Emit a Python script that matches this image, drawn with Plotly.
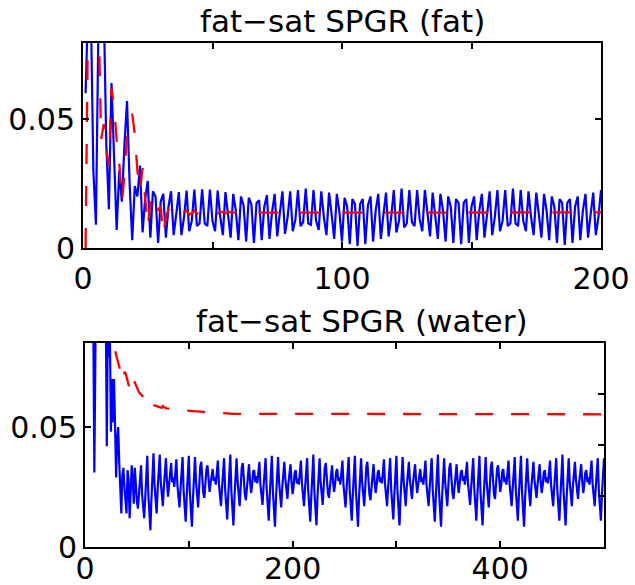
import numpy as np
import plotly.graph_objects as go

# Signals, in units of 1e-3 (MATLAB plot(y): x = 1..N)
fat_spgr = [
    60, 95, 95, 30, 9, 90, 100, 95, 40, 15,
    64, 35, 7, 30, 18, 40, 57, 25, 3, 24,
    20, 32, 6, 19, 26, 4, 22, 20, 2, 18,
    21, 4, 16, 22, 5, 13, 21.7, 5, 12, 22.3,
    6.5, 10.5, 22.7, 8.5, 9.5, 22.8, 9.5, 8.5, 22.7, 10.5,
    6.5, 22.3, 12, 5, 21.7, 13, 4, 21, 14.5, 3,
    20, 16.5, 2.5, 19.5, 17, 2, 17.5, 18.5, 3, 16,
    20.5, 3.5, 14, 21, 4.5, 13.5, 22, 5.5, 12, 22,
    6.5, 11, 22.5, 8.5, 10, 23, 9.5, 9, 22.5, 10.5,
    7, 22, 12, 5, 21.5, 13, 3.5, 21, 14, 2.5,
    19.5, 16, 1.5, 19, 17, 0.8, 17, 19, 1.5, 16.5,
    20, 2.5, 14.5, 21, 3.5, 13, 21.5, 4.5, 12, 22.5,
    6, 10.5, 23, 8, 9.5, 22.5, 10, 8.5, 22.5, 11,
    6.5, 22.5, 12, 4.5, 21.5, 13.5, 3.5, 21, 14.5, 2.5,
    20, 16, 2, 19, 17.5, 1.5, 17.5, 19, 2, 16,
    20, 3, 14.5, 21, 4, 13, 22, 5, 12, 22.5,
    6.5, 10.5, 22.5, 8.5, 9.5, 23, 9.5, 8.5, 22.5, 10.5,
    6.5, 22, 12, 5, 21.5, 13, 4, 21, 14.5, 3,
    20, 16, 2, 19, 17.5, 1.2, 17.5, 19, 2, 16,
    20, 3, 14.5, 21, 4, 13, 21.5, 5, 12, 22.5,
]

fat_ideal = [
    0, 95, 100, 90, 88, 90, 42, 48, 38, 32,
    62, 55, 42, 33, 18, 28, 45, 50, 52, 44,
    30, 22, 31, 20, 8, 18, 16, 12, 15, 16,
    5, 12, 15, 14, 13, 14.5, 13, 12.5, 14, 14.5,
    13, 13.5, 14.5, 13.5, 13, 14, 14, 13.2, 13.5, 14.2,
    13.6, 13.4, 14, 13.9, 13.5, 13.8, 14, 13.7, 13.7, 13.9,
    13.8, 13.8, 13.8, 13.8, 13.8, 13.8, 13.8, 13.8, 13.8, 13.8,
    13.8, 13.8, 13.8, 13.8, 13.8, 13.8, 13.8, 13.8, 13.8, 13.8,
    13.8, 13.8, 13.8, 13.8, 13.8, 13.8, 13.8, 13.8, 13.8, 13.8,
    13.8, 13.8, 13.8, 13.8, 13.8, 13.8, 13.8, 13.8, 13.8, 13.8,
    13.8, 13.8, 13.8, 13.8, 13.8, 13.8, 13.8, 13.8, 13.8, 13.8,
    13.8, 13.8, 13.8, 13.8, 13.8, 13.8, 13.8, 13.8, 13.8, 13.8,
    13.8, 13.8, 13.8, 13.8, 13.8, 13.8, 13.8, 13.8, 13.8, 13.8,
    13.8, 13.8, 13.8, 13.8, 13.8, 13.8, 13.8, 13.8, 13.8, 13.8,
    13.8, 13.8, 13.8, 13.8, 13.8, 13.8, 13.8, 13.8, 13.8, 13.8,
    13.8, 13.8, 13.8, 13.8, 13.8, 13.8, 13.8, 13.8, 13.8, 13.8,
    13.8, 13.8, 13.8, 13.8, 13.8, 13.8, 13.8, 13.8, 13.8, 13.8,
    13.8, 13.8, 13.8, 13.8, 13.8, 13.8, 13.8, 13.8, 13.8, 13.8,
    13.8, 13.8, 13.8, 13.8, 13.8, 13.8, 13.8, 13.8, 13.8, 13.8,
    13.8, 13.8, 13.8, 13.8, 13.8, 13.8, 13.8, 13.8, 13.8, 13.8,
]

water_spgr = [
    130, 140, 120, 110, 125, 115, 100, 95, 31, 100,
    130, 115, 105, 120, 110, 100, 115, 105, 95, 100,
    42, 95, 79, 88, 48, 70, 52, 70, 50, 29,
    45, 50, 35, 20, 14, 30, 33, 25, 18, 14,
    32, 28, 12, 22, 34, 28, 18,
    33, 25, 19, 16, 22, 29, 34, 22, 15, 12, 20, 30,
    38, 22, 11, 7, 20, 33, 39, 26, 17, 14, 24, 34,
    38.5, 27, 20, 17, 25, 33, 37, 27, 21, 26, 32, 35, 27, 29, 25, 32,
    36.5, 26, 19.5, 16.5, 24, 32, 37.5, 23.5, 14.5, 10.5, 21, 32.5,
    38, 23, 13, 8.5, 20, 32, 37.5, 27, 20, 16.5, 25, 33.5,
    35.5, 28, 22.5, 20.5, 26.5, 32.5, 34, 27, 23, 26.5, 31, 32.5, 27.5, 29, 26, 30.5,
    36, 26.5, 20, 17, 24.5, 31.5, 37, 24, 15, 11.5, 21.5, 32,
    38.5, 23.5, 13.5, 9, 20.5, 32.5, 37, 27.5, 20.5, 17, 25, 33,
    35, 28, 22, 19.5, 26, 32, 34.5, 27.5, 22.5, 26, 31.5, 32, 27, 29.5, 26.5, 31,
    35.5, 26, 20, 17.5, 25, 32, 37, 24.5, 15.5, 11, 21.5, 31.5,
    38, 23.5, 13, 8.5, 20, 32, 37.5, 27, 19.5, 16.5, 24.5, 33,
    35.5, 28.5, 22.5, 20, 26.5, 32.5, 34.5, 27, 22, 25.5, 31, 32, 26.5, 28.5, 26, 31,
    36, 26.5, 20.5, 17, 24.5, 32.5, 37, 24, 14.5, 10.5, 21, 32,
    38.5, 23, 13.5, 9, 21, 32.5, 37, 27, 20, 17.5, 25.5, 33,
    35, 27.5, 22.5, 20.5, 26, 32, 34, 27, 23, 26.5, 31.5, 32.5, 27.5, 29, 26, 31,
    36, 26, 19.5, 16.5, 24, 32, 37.5, 24, 15, 11, 21.5, 32,
    38, 23.5, 13.5, 8.5, 20.5, 32, 37, 27, 20, 17, 25, 33.5,
    35.5, 28, 22, 19.5, 26, 32.5, 34.5, 27, 22.5, 26, 31, 32, 27, 29, 26.5, 31,
    36.5, 26.5, 20, 17, 24.5, 32, 37, 24, 15.5, 11.5, 21.5, 32,
    38, 23.5, 13, 9, 20.5, 32.5, 37.5, 27.5, 20.5, 17, 25, 33,
    35.5, 28, 22.5, 20, 26.5, 32.5, 34.5, 27.5, 22.5, 26, 31, 32.5, 27, 29, 26, 31.5,
    36, 26, 20, 17, 24.5, 32, 37, 24, 14.5, 10.5, 21, 31.5,
    38.5, 23.5, 13.5, 8.5, 20.5, 32, 37, 27, 20, 17, 25, 33,
    35, 28, 22.5, 20, 26, 32, 34.5, 27, 22.5, 26.5, 31, 32, 27.5, 29.5, 26, 31,
    35.5, 26.5, 20.5, 17.5, 24.5, 32, 37, 24.5, 15, 11, 21.5, 32,
    38, 23, 13.5, 9, 20, 32, 37.5, 27, 20, 16.5, 25, 33.5,
    35.5, 28, 22, 20, 26.5, 32.5, 34, 27, 23, 26, 31.5, 32.5, 27, 29, 26, 31,
    36, 26.5, 20, 17, 24, 32, 37.5, 24, 15, 11, 21.5, 32.5,
    38, 23.5, 13, 8.5, 20.5, 32, 37, 27.5, 20.5, 17, 25, 33,
    35.5, 28, 22.5, 20.5, 26, 32, 34.5, 27, 22.5, 26, 31, 32, 27, 29, 26.5, 31,
    36, 26, 20, 17, 24.5, 32, 37, 24, 15, 11, 21, 32,
    38.5, 23.5, 13.5, 9, 20.5, 32.5, 37, 27, 20, 17, 25, 33,
    35.5, 28, 22.5, 20, 26.5, 32.5, 34.5, 27.5, 22.5, 26, 31, 32, 27, 29, 26, 31,
    36, 26.5, 20, 17, 24.5, 32, 37, 24, 15, 11, 21.5, 32, 37,
]

water_ideal = [
    140, 135, 131, 127, 123, 119, 116, 113, 110, 108,
    106, 104, 102, 100, 98.5, 97, 96, 95, 94, 93,
    92, 91, 90, 89, 88, 86.5,
    85, 83.5, 82, 80, 78, 76.5, 75, 73.5, 71.5, 70,
    69.5, 73, 72.5, 71, 69, 67.5, 66.5, 66, 65.5, 65,
    69.5, 68.5, 67, 66, 65, 64.5, 64, 63.5, 63, 62.5,
    62, 61.5, 61.2, 62.5, 61.5, 61, 60.5, 60, 59.5, 59.2,
    59, 58.8, 58.6, 58.5, 58.4, 58.3, 58.1, 58, 58.7, 58.3,
    58, 57.9, 57.8, 57.7, 57.6, 57.6, 57.5, 57.4, 57.4, 57.3,
    57.3, 57.2, 57.2, 57.1, 57.1, 57, 57, 56.9, 56.9, 56.9,
    56.8, 56.8, 56.8, 56.7,
    56.7, 56.7, 56.6, 56.6, 56.6, 56.5, 56.5, 56.5, 56.4, 56.4,
    56.4, 56.3, 56.3, 56.3, 56.2, 56.2, 56.2, 56.1, 56.1, 56.1,
    56.0, 56.0, 56.0, 55.9, 55.9, 55.9, 55.9, 55.8, 55.8, 55.8,
    55.8, 55.7, 55.7, 55.7, 55.7, 55.6, 55.6, 55.6, 55.6, 55.6,
    # 140-199
    55.5, 55.5, 55.5, 55.5, 55.5, 55.5, 55.5, 55.5, 55.5, 55.5,
    55.5, 55.5, 55.5, 55.5, 55.5, 55.5, 55.5, 55.5, 55.5, 55.5,
    55.4, 55.4, 55.4, 55.4, 55.4, 55.4, 55.4, 55.4, 55.4, 55.4,
    55.4, 55.4, 55.4, 55.4, 55.4, 55.4, 55.4, 55.4, 55.4, 55.4,
    55.4, 55.4, 55.4, 55.4, 55.4, 55.4, 55.4, 55.4, 55.4, 55.4,
    55.4, 55.4, 55.4, 55.4, 55.4, 55.4, 55.4, 55.4, 55.4, 55.4,
    # 200-299
    55.3, 55.3, 55.3, 55.3, 55.3, 55.3, 55.3, 55.3, 55.3, 55.3,
    55.3, 55.3, 55.3, 55.3, 55.3, 55.3, 55.3, 55.3, 55.3, 55.3,
    55.3, 55.3, 55.3, 55.3, 55.3, 55.3, 55.3, 55.3, 55.3, 55.3,
    55.3, 55.3, 55.3, 55.3, 55.3, 55.3, 55.3, 55.3, 55.3, 55.3,
    55.3, 55.3, 55.3, 55.3, 55.3, 55.3, 55.3, 55.3, 55.3, 55.3,
    55.3, 55.3, 55.3, 55.3, 55.3, 55.3, 55.3, 55.3, 55.3, 55.3,
    55.3, 55.3, 55.3, 55.3, 55.3, 55.3, 55.3, 55.3, 55.3, 55.3,
    55.3, 55.3, 55.3, 55.3, 55.3, 55.3, 55.3, 55.3, 55.3, 55.3,
    55.3, 55.3, 55.3, 55.3, 55.3, 55.3, 55.3, 55.3, 55.3, 55.3,
    55.3, 55.3, 55.3, 55.3, 55.3, 55.3, 55.3, 55.3, 55.3, 55.3,
    # 300-399
    55.3, 55.3, 55.3, 55.3, 55.3, 55.3, 55.3, 55.3, 55.3, 55.3,
    55.3, 55.3, 55.3, 55.3, 55.3, 55.3, 55.3, 55.3, 55.3, 55.3,
    55.3, 55.3, 55.3, 55.3, 55.3, 55.3, 55.3, 55.3, 55.3, 55.3,
    55.3, 55.3, 55.3, 55.3, 55.3, 55.3, 55.3, 55.3, 55.3, 55.3,
    55.3, 55.3, 55.3, 55.3, 55.3, 55.3, 55.3, 55.3, 55.3, 55.3,
    55.3, 55.3, 55.3, 55.3, 55.3, 55.3, 55.3, 55.3, 55.3, 55.3,
    55.3, 55.3, 55.3, 55.3, 55.3, 55.3, 55.3, 55.3, 55.3, 55.3,
    55.3, 55.3, 55.3, 55.3, 55.3, 55.3, 55.3, 55.3, 55.3, 55.3,
    55.3, 55.3, 55.3, 55.3, 55.3, 55.3, 55.3, 55.3, 55.3, 55.3,
    55.3, 55.3, 55.3, 55.3, 55.3, 55.3, 55.3, 55.3, 55.3, 55.3,
    # 400-499
    55.3, 55.3, 55.3, 55.3, 55.3, 55.3, 55.3, 55.3, 55.3, 55.3,
    55.3, 55.3, 55.3, 55.3, 55.3, 55.3, 55.3, 55.3, 55.3, 55.3,
    55.3, 55.3, 55.3, 55.3, 55.3, 55.3, 55.3, 55.3, 55.3, 55.3,
    55.3, 55.3, 55.3, 55.3, 55.3, 55.3, 55.3, 55.3, 55.3, 55.3,
    55.3, 55.3, 55.3, 55.3, 55.3, 55.3, 55.3, 55.3, 55.3, 55.3,
    55.3, 55.3, 55.3, 55.3, 55.3, 55.3, 55.3, 55.3, 55.3, 55.3,
    55.3, 55.3, 55.3, 55.3, 55.3, 55.3, 55.3, 55.3, 55.3, 55.3,
    55.3, 55.3, 55.3, 55.3, 55.3, 55.3, 55.3, 55.3, 55.3, 55.3,
    55.3, 55.3, 55.3, 55.3, 55.3, 55.3, 55.3, 55.3, 55.3, 55.3,
    55.3, 55.3, 55.3, 55.3, 55.3, 55.3, 55.3, 55.3, 55.3, 55.3,
]

titles = ['fat\u2212sat SPGR (fat)', 'fat\u2212sat SPGR (water)']

FONT = 'DejaVu Sans'
BLUE = '#0000ff'
RED = '#ff0000'


def idx(sig):
    # MATLAB plot(y) puts sample k at x = k
    return np.arange(1, len(sig) + 1)


fig = go.Figure()

fig.add_trace(go.Scatter(x=idx(fat_spgr), y=np.array(fat_spgr) / 1000, mode='lines',
                         line=dict(color=BLUE, width=2.2), xaxis='x', yaxis='y'))
fig.add_trace(go.Scatter(x=idx(fat_ideal), y=np.array(fat_ideal) / 1000, mode='lines',
                         line=dict(color=RED, width=2.3, dash='20px,22px'), xaxis='x', yaxis='y'))
fig.add_trace(go.Scatter(x=idx(water_spgr), y=np.array(water_spgr) / 1000, mode='lines',
                         line=dict(color=BLUE, width=2.2), xaxis='x2', yaxis='y2'))
fig.add_trace(go.Scatter(x=idx(water_ideal), y=np.array(water_ideal) / 1000, mode='lines',
                         line=dict(color=RED, width=2.3, dash='18px,18px'), xaxis='x2', yaxis='y2'))
# empty trace so the extra right-hand tick axis gets drawn
fig.add_trace(go.Scatter(x=[], y=[], xaxis='x2', yaxis='y3'))

axis_style = dict(
    showline=True, linecolor='black', linewidth=2,
    ticks='inside', ticklen=6, tickwidth=2, tickcolor='black',
    showgrid=False, zeroline=False, automargin=False,
    tickfont=dict(family=FONT, size=30, color='black'),
)

fig.update_layout(
    template='none',
    width=635, height=585,
    margin=dict(l=0, r=0, t=0, b=0, pad=0, autoexpand=False),
    paper_bgcolor='white', plot_bgcolor='white',
    showlegend=False,
    xaxis=dict(axis_style, domain=[83 / 635, 601 / 635], range=[0, 200], anchor='y',
               mirror='ticks', tickvals=[0, 50, 100, 150, 200],
               ticktext=['0', '', '100', '', '200'], ticklabelstandoff=3),
    yaxis=dict(axis_style, domain=[1 - 248 / 585, 1 - 43 / 585], range=[0, 0.0795], anchor='x',
               mirror='ticks', tickvals=[0, 0.05], ticktext=['0', '0.05'], ticklabelstandoff=0),
    xaxis2=dict(axis_style, domain=[85 / 635, 604 / 635], range=[0, 500], anchor='y2',
                mirror='ticks', tickvals=[0, 100, 200, 300, 400, 500],
                ticktext=['0', '', '200', '', '400', ''], ticklabelstandoff=-6),
    yaxis2=dict(axis_style, domain=[1 - 547 / 585, 1 - 343 / 585], range=[0, 0.085], anchor='x2',
                mirror=True, tickvals=[0, 0.05], ticktext=['0', '0.05'], ticklabelstandoff=0),
    yaxis3=dict(overlaying='y2', side='right', anchor='x2', range=[0, 4], automargin=False,
                tickvals=[1, 2, 3], ticks='inside', ticklen=6, tickwidth=2, tickcolor='black',
                showticklabels=False, showline=False, showgrid=False, zeroline=False),
)

title_pos = [(343 / 635, 1 - 21 / 585), (362 / 635, 1 - 321 / 585)]
for text, (tx, ty) in zip(titles, title_pos):
    fig.add_annotation(text=text, x=tx, y=ty, xref='paper', yref='paper',
                       xanchor='center', yanchor='middle', showarrow=False,
                       font=dict(family=FONT, size=31, color='black'))

# drop the browser's default body margin so the figure sits at the window corner
fig.write_html('out.html', config={'displayModeBar': False},
               post_script="document.body.style.margin='0px';")
